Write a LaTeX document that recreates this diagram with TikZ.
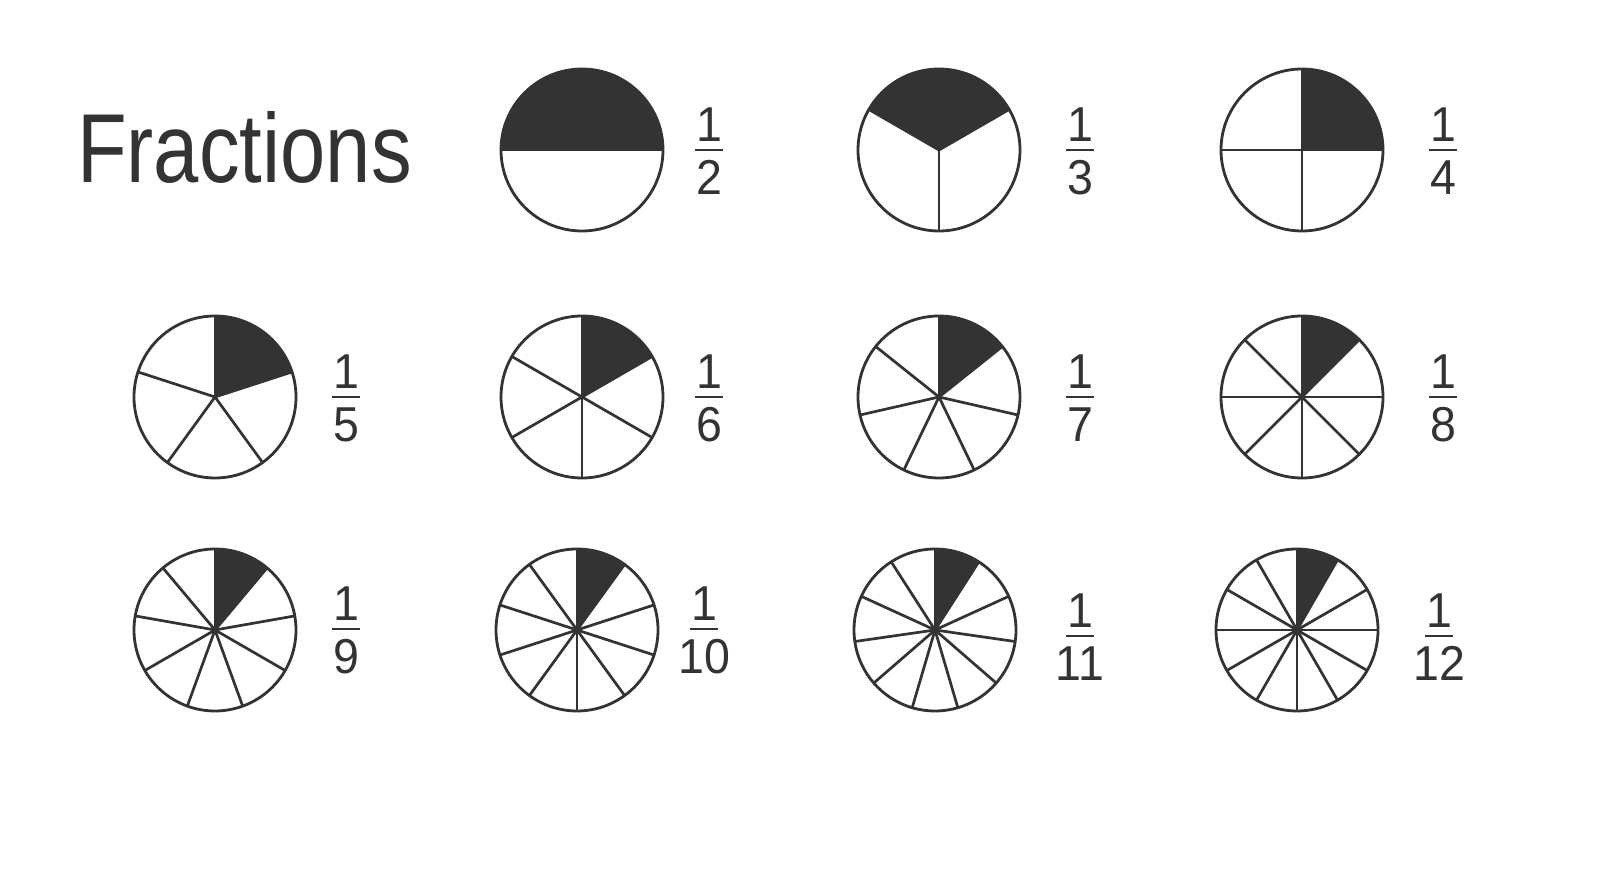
\documentclass[tikz,border=0pt]{standalone}
\usepackage{fontspec}
\newfontfamily\narrowsans[FakeStretch=0.83]{Liberation Sans}
\newfontfamily\digitsans[FakeStretch=0.95]{Liberation Sans}
\definecolor{ink}{HTML}{333333}
\tikzset{
  rim/.style={draw=ink, line width=2.8pt},
  spoke/.style={draw=ink, line width=2.7pt},
  fracbar/.style={draw=ink, line width=2.8pt},
  digit/.style={font=\digitsans\fontsize{49}{49}\selectfont, text=ink, inner sep=0pt, anchor=base},
  titletext/.style={font=\narrowsans\fontsize{98}{98}\selectfont, text=ink, inner sep=0pt, anchor=base west}
}
% #1,#2 centre, #3 parts, #4 start angle of the shaded part
\newcommand\piechart[4]{%
  \begin{scope}[shift={(#1pt,#2pt)}]
    \pgfmathsetmacro\pstep{360/#3}
    \pgfmathsetmacro\pend{#4+\pstep}
    \fill[ink] (0,0) -- (#4:81pt) arc[start angle=#4, end angle=\pend, radius=81pt] -- cycle;
    \foreach \k in {1,...,#3}{
      \draw[spoke] (0,0) -- ({#4+\k*\pstep}:81pt);
    }
    \draw[rim] (0,0) circle[radius=81pt];
  \end{scope}}
% #1 name, #2,#3 bar centre, #4 denominator
\newcommand\fraclabel[4]{%
  \coordinate (#1-l) at (#2pt-14pt,#3pt);
  \coordinate (#1-r) at (#2pt+14pt,#3pt);
  \draw[fracbar] (#1-l) -- (#1-r);
  \node[digit] (#1-num) at (#2pt,#3pt+8pt) {1};
  \node[digit] (#1-den) at (#2pt,#3pt-45pt) {#4};}
\begin{document}
\begin{tikzpicture}[x=1pt,y=1pt]
\useasboundingbox[fill=white] (0,0) rectangle (1600,890);
\node[titletext] (title) at (77,707) {Fractions};
% row 1
\piechart{582}{740}{2}{0}
\piechart{939}{740}{3}{30}
\piechart{1302}{740}{4}{0}
\fraclabel{f2}{709}{740}{2}
\fraclabel{f3}{1080}{740}{3}
\fraclabel{f4}{1443}{740}{4}
% row 2
\piechart{215}{493}{5}{18}
\piechart{582}{493}{6}{30}
\piechart{939}{493}{7}{38.5714}
\piechart{1302}{493}{8}{45}
\fraclabel{f5}{346}{493}{5}
\fraclabel{f6}{709}{493}{6}
\fraclabel{f7}{1080}{493}{7}
\fraclabel{f8}{1443}{493}{8}
% row 3
\piechart{215}{260}{9}{50}
\piechart{577}{260}{10}{54}
\piechart{935}{260}{11}{57.2727}
\piechart{1297}{260}{12}{60}
\fraclabel{f9}{346}{261}{9}
\fraclabel{f10}{704}{261}{10}
\fraclabel{f11}{1080}{254}{11}
\fraclabel{f12}{1439}{254}{12}
\end{tikzpicture}
\end{document}
